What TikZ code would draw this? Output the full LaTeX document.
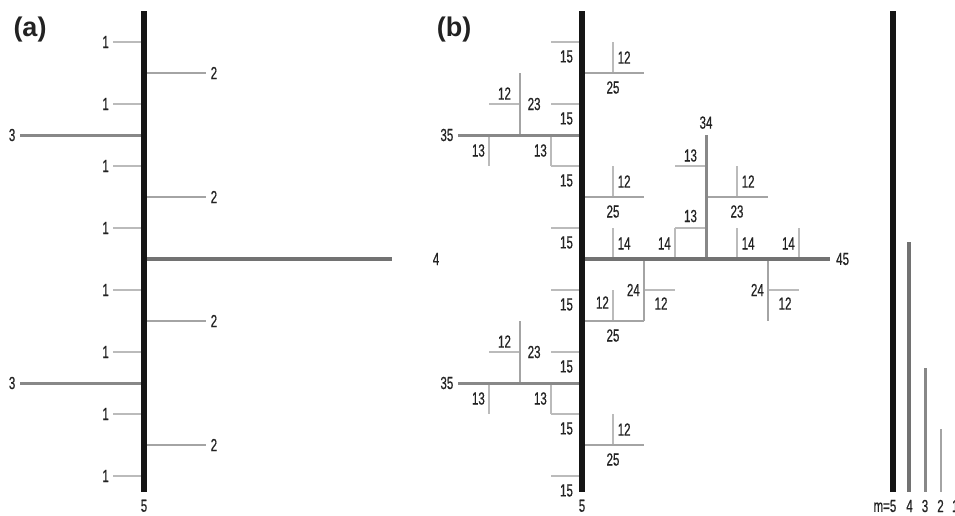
\documentclass[tikz,border=0pt]{standalone}
\usepackage{fontspec}
\newfontfamily\labfont{Liberation Sans}[FakeStretch=0.66, FakeBold=0.6]
\newfontfamily\headfont{Liberation Sans}
\definecolor{c5}{HTML}{151515}
\definecolor{c4}{HTML}{727272}
\definecolor{c3}{HTML}{888888}
\definecolor{c2}{HTML}{A4A4A4}
\definecolor{c1}{HTML}{BBBBBB}
\definecolor{ink}{HTML}{222222}
\tikzset{
  o5/.style={draw=c5, line width=5.2pt},
  o4/.style={draw=c4, line width=3.8pt},
  o3/.style={draw=c3, line width=3pt},
  o2/.style={draw=c2, line width=2.3pt},
  o1/.style={draw=c1, line width=1.6pt},
  lab/.style={inner sep=0pt, text=ink, font=\fontsize{17.5pt}{17.5pt}\selectfont\labfont},
  lbelow/.style={lab, yshift=-14.5pt},
  labove/.style={lab, yshift=10.5pt},
  lright/.style={lab, anchor=west, xshift=4.5pt},
  lleft/.style={lab, anchor=east, xshift=-4pt},
  head/.style={inner sep=0pt, text=ink, font=\fontsize{27pt}{27pt}\selectfont\headfont\bfseries},
}
\begin{document}
\begin{tikzpicture}[x=1pt, y=-1pt]
\useasboundingbox (0,0) rectangle (955,515);

\node[head] (ta) at (30,30) {(a)};
\node[head] (tb) at (454,30) {(b)};

% ---------- panel (a): stream of order 5 with its side branches ----------
\begin{scope}[shift={(144,259)}, x=31pt, y=31pt]
  \foreach \r [count=\i] in {7,5,3,1,-1,-3,-5,-7} {
    \draw[o1] (-1,\r) -- (0,\r);
    \node[lleft] (a1n\i) at (-1,\r) {1};
  }
  \foreach \r [count=\i] in {6,2,-2,-6} {
    \draw[o2] (0,\r) -- (2,\r);
    \node[lright] (a2n\i) at (2,\r) {2};
  }
  \foreach \r [count=\i] in {4,-4} {
    \draw[o3] (-4,\r) -- (0,\r);
    \node[lleft, xshift=-0.5pt] (a3n\i) at (-4,\r) {3};
  }
  \draw[o4] (0,0) -- (8,0);
  \node[lab] (a4) at (9.42,0) {4};
  \draw[o5] (0,8) -- (0,-7.5);
  \node[lab, anchor=north, yshift=-8pt] (a5) at (0,-7.5) {5};
\end{scope}

% ---------- panel (b): the same tree with every branch labelled ----------
\begin{scope}[shift={(582,259)}, x=31pt, y=31pt]
  % order 1
  \foreach \r [count=\i] in {7,5,3,1,-1,-3,-5,-7} {
    \draw[o1] (-1,\r) -- (0,\r);
    \node[lbelow] (b15n\i) at (-0.5,\r) {15};
  }
  \foreach \r [count=\i] in {6,2,-6} {
    \draw[o1] (1,\r) -- (1,\r+1);
    \node[lright] (b12v\i) at (1,\r+0.5) {12};
  }
  \draw[o1] (1,-2) -- (1,-1);
  \node[lleft, yshift=3pt] (b12v4) at (1,-1.5) {12};
  \foreach \r [count=\i] in {4,-4} {
    \draw[o1] (-3,\r+1) -- (-2,\r+1);
    \node[labove] (b12h\i) at (-2.5,\r+1) {12};
    \draw[o1] (-3,\r) -- (-3,\r-1);
    \node[lleft] (b13a\i) at (-3,\r-0.5) {13};
    \draw[o1] (-1,\r) -- (-1,\r-1);
    \node[lleft] (b13b\i) at (-1,\r-0.5) {13};
  }
  \foreach \x/\side [count=\i] in {1/lright,3/lleft,5/lright,7/lleft} {
    \draw[o1] (\x,0) -- (\x,1);
    \node[\side] (b14n\i) at (\x,0.5) {14};
  }
  \draw[o1] (3,1) -- (4,1);
  \node[labove, yshift=1.5pt] (b13c) at (3.5,1) {13};
  \draw[o1] (3,3) -- (4,3);
  \node[labove] (b13d) at (3.5,3) {13};
  \draw[o1] (5,2) -- (5,3);
  \node[lright] (b12v5) at (5,2.5) {12};
  \draw[o1] (2,-1) -- (3,-1);
  \node[lbelow, yshift=1pt] (b12h3) at (2.55,-1) {12};
  \draw[o1] (6,-1) -- (7,-1);
  \node[lbelow, yshift=1pt] (b12h4) at (6.55,-1) {12};
  % order 2
  \foreach \r [count=\i] in {6,2,-2,-6} {
    \draw[o2] (0,\r) -- (2,\r);
    \node[lbelow] (b25n\i) at (1,\r) {25};
  }
  \foreach \r [count=\i] in {4,-4} {
    \draw[o2] (-2,\r) -- (-2,\r+2);
    \node[lright, xshift=3pt] (b23n\i) at (-2,\r+1) {23};
  }
  \draw[o2] (4,2) -- (6,2);
  \node[lbelow] (b23c) at (5,2) {23};
  \draw[o2] (2,0) -- (2,-2);
  \node[lleft] (b24a) at (2,-1) {24};
  \draw[o2] (6,0) -- (6,-2);
  \node[lleft] (b24b) at (6,-1) {24};
  % order 3
  \foreach \r [count=\i] in {4,-4} {
    \draw[o3] (-4,\r) -- (0,\r);
    \node[lleft, xshift=-0.5pt] (b35n\i) at (-4,\r) {35};
  }
  \draw[o3] (4,0) -- (4,4);
  \node[lab, anchor=south, yshift=6pt] (b34) at (4,4) {34};
  % order 4
  \draw[o4] (0,0) -- (8,0);
  \node[lright, xshift=1.5pt] (b45) at (8,0) {45};
  % order 5
  \draw[o5] (0,8) -- (0,-7.5);
  \node[lab, anchor=north, yshift=-8pt] (b5) at (0,-7.5) {5};
\end{scope}

% ---------- key: line weight and shade for each order m ----------
\draw[o5] (893,491.5) -- (893,11);
\draw[o4] (909,491.5) -- (909,242);
\draw[o3] (925,491.5) -- (925,368);
\draw[o2] (941,491.5) -- (941,429);
\draw[o1] (955.3,491.5) -- (955.3,461);
\node[lab, anchor=east] (k5) at (896.5,506) {m=5};
\node[lab] (k4) at (909.5,506) {4};
\node[lab] (k3) at (925,506) {3};
\node[lab] (k2) at (940.5,506) {2};
\node[lab] (k1) at (955.3,506) {1};
\end{tikzpicture}
\end{document}
